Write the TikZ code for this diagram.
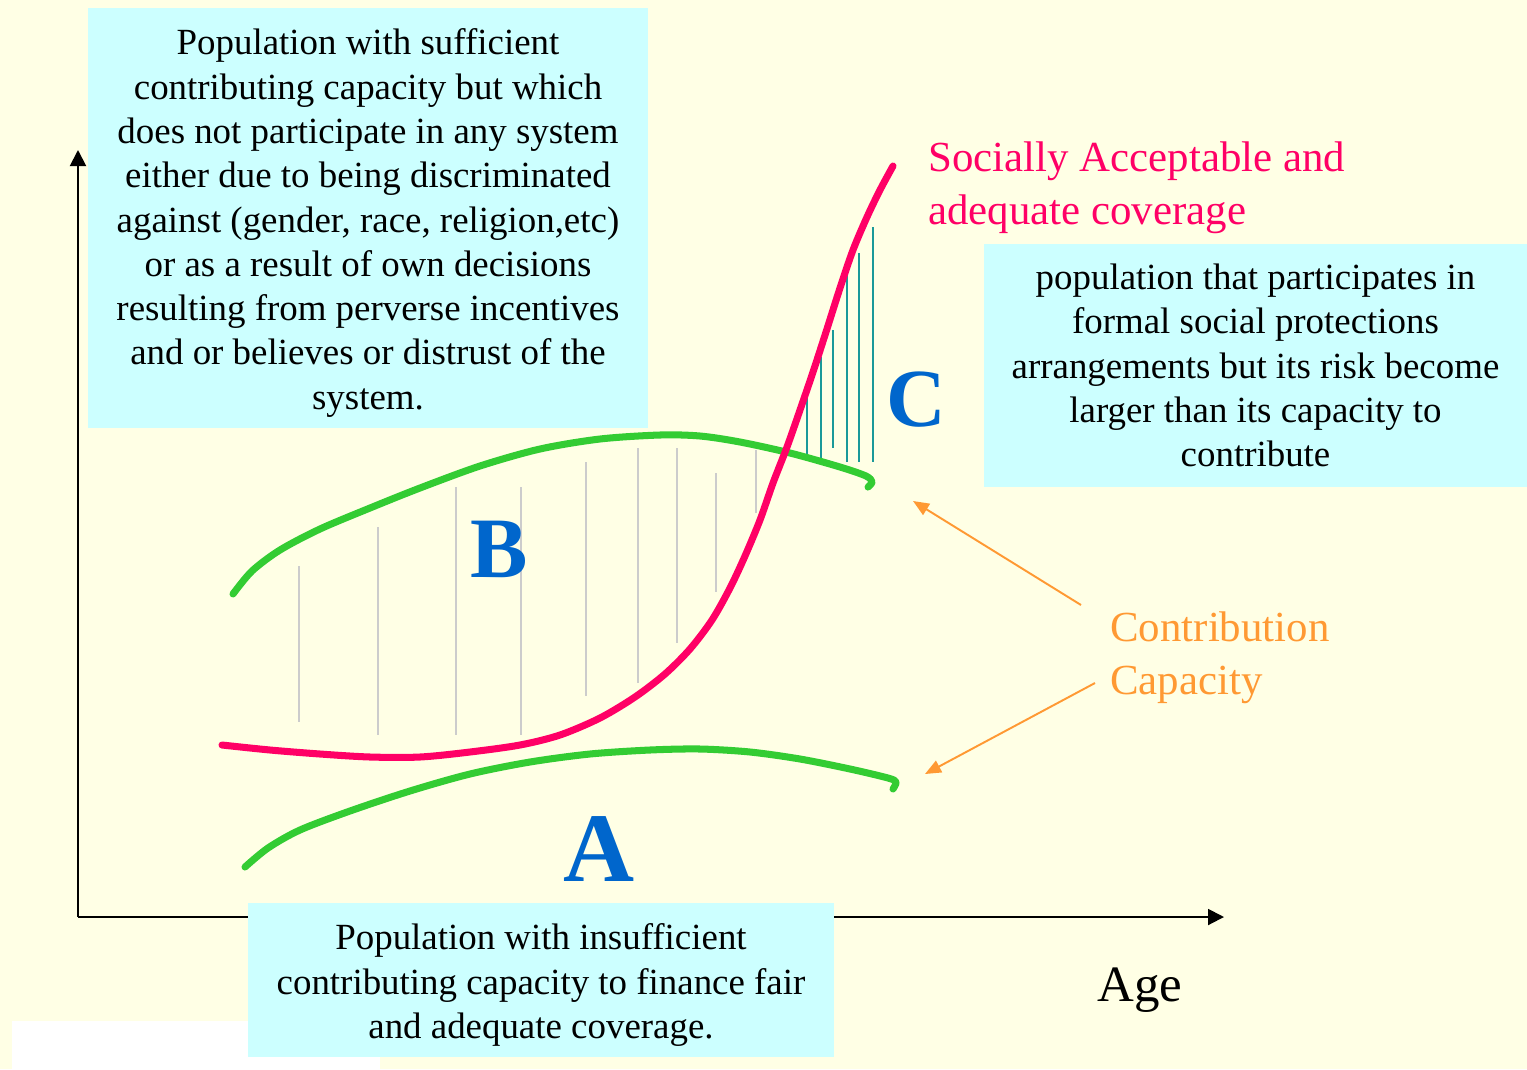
\documentclass[tikz,border=0pt]{standalone}
\usepackage{fontspec}
\setmainfont{Liberation Serif}
\usetikzlibrary{arrows.meta}
\definecolor{bg}{HTML}{FFFFE5}
\definecolor{boxc}{HTML}{CCFFFF}
\definecolor{pinkc}{HTML}{FF0066}
\definecolor{greenc}{HTML}{33CC33}
\definecolor{bluec}{HTML}{0066CC}
\definecolor{orangec}{HTML}{FF9933}
\definecolor{tealc}{HTML}{1A9999}
\definecolor{grayl}{HTML}{CCCCCC}
\begin{document}
\begin{tikzpicture}[x=0.02cm,y=-0.02cm,
  infobox/.style={fill=boxc, inner sep=0pt},
  boxtext/.style={inner sep=0pt, align=center, font=\fontsize{21}{25.2}\selectfont},
  bigletter/.style={text=bluec, inner sep=0pt},
  curve/.style={line width=4pt, line cap=round, line join=round},
  graybar/.style={grayl, line width=0.7pt},
  tealbar/.style={tealc, line width=0.9pt},
  axis/.style={line width=1.1pt, -{Triangle[length=0.32cm,width=0.32cm]}},
  pointer/.style={orangec, line width=1.1pt, -{Triangle[length=0.32cm,width=0.26cm]}}]
\fill[bg] (0,0) rectangle (1527,1069);
\useasboundingbox (0,0) rectangle (1527,1069);
\fill[white] (12,1021) rectangle (380,1069);
% hatching B
\foreach \x/\a/\b in {299/566/722, 378/527/735, 456/487/735, 521/487/735, 586/462/696, 638/448/683, 677/448/643, 716/473/592, 756/450/513}
  \draw[graybar] (\x,\a) -- (\x,\b);
% hatching C
\foreach \x/\a/\b in {807/395/455, 821/357/460, 833/330/448, 847/265/462, 859/253/462, 873/227/462}
  \draw[tealbar] (\x,\a) -- (\x,\b);
% curves
\draw[curve, greenc] plot[smooth, tension=0.5] coordinates {(233,594) (252,571) (280,550) (320,529) (370,508) (420,488) (480,466) (540,449) (600,439) (660,435) (700,436) (740,442) (790,453) (840,467) (866,476) (872,482) (868,487)};
\draw[curve, greenc] plot[smooth, tension=0.5] coordinates {(245,867) (268,848) (300,830) (350,811) (410,791) (470,774) (530,762) (590,754) (650,750) (700,749) (750,752) (800,759) (850,769) (888,778) (896,782) (893,789)};
\draw[curve, pinkc] plot[smooth, tension=0.5] coordinates {(222,745) (270,750) (320,754) (370,757) (420,757) (470,752) (520,745) (560,735) (600,718) (635,697) (665,674) (690,649) (712,620) (730,588) (745,556) (760,520) (773,483) (787,447) (800,410) (813,372) (826,332) (840,288) (853,250) (867,217) (880,190) (893,166)};
% axes
\coordinate (origin) at (78,917);
\coordinate (ytip) at (78,150);
\coordinate (xtip) at (1224,917);
\draw[axis] (origin) -- (ytip);
\draw[axis] (origin) -- (xtip);
% boxes
\node[infobox, minimum width=11.2cm, minimum height=8.4cm] (topbox) at (368,218) {};
\node[boxtext] (toptext) at ([yshift=-0.1cm]topbox.center) {Population with sufficient\\contributing capacity but which\\does not participate in any system\\either due to being discriminated\\against (gender, race, religion,etc)\\or as a result of own decisions\\resulting from perverse incentives\\and or believes or distrust of the\\system.};
\node[infobox, minimum width=10.86cm, minimum height=4.86cm] (rightbox) at (1255.5,365.5) {};
\node[boxtext] (righttext) at (rightbox.center) {population that participates in\\formal social protections\\arrangements but its risk become\\larger than its capacity to\\contribute};
\node[infobox, minimum width=11.72cm, minimum height=3.08cm] (bottombox) at (541,980) {};
\node[boxtext] (bottomtext) at ([yshift=-0.1cm]bottombox.center) {Population with insufficient\\contributing capacity to finance fair\\and adequate coverage.};
% labels
\node[text=pinkc, anchor=west, align=left, inner sep=0pt, font=\fontsize{24.4}{30}\selectfont] (social) at (928,188) {Socially Acceptable and\\adequate coverage};
\node[text=orangec, anchor=west, align=left, inner sep=0pt, font=\fontsize{24.4}{30}\selectfont] (contrib) at (1110,658) {Contribution\\Capacity};
\node[inner sep=0pt, font=\fontsize{29}{34}\selectfont] (age) at (1140,990) {Age};
\node[bigletter, font=\fontsize{49}{49}\selectfont\bfseries] (B) at (499,549) {B};
\node[bigletter, font=\fontsize{47}{47}\selectfont\bfseries] (C) at (916,400) {C};
\node[bigletter, font=\fontsize{56}{56}\selectfont\bfseries] (A) at (599,849) {A};
% pointers
\coordinate (p1s) at (1081,605);
\coordinate (p1e) at (913,501);
\coordinate (p2s) at (1095,683);
\coordinate (p2e) at (925,774);
\draw[pointer] (p1s) -- (p1e);
\draw[pointer] (p2s) -- (p2e);
\end{tikzpicture}
\end{document}
